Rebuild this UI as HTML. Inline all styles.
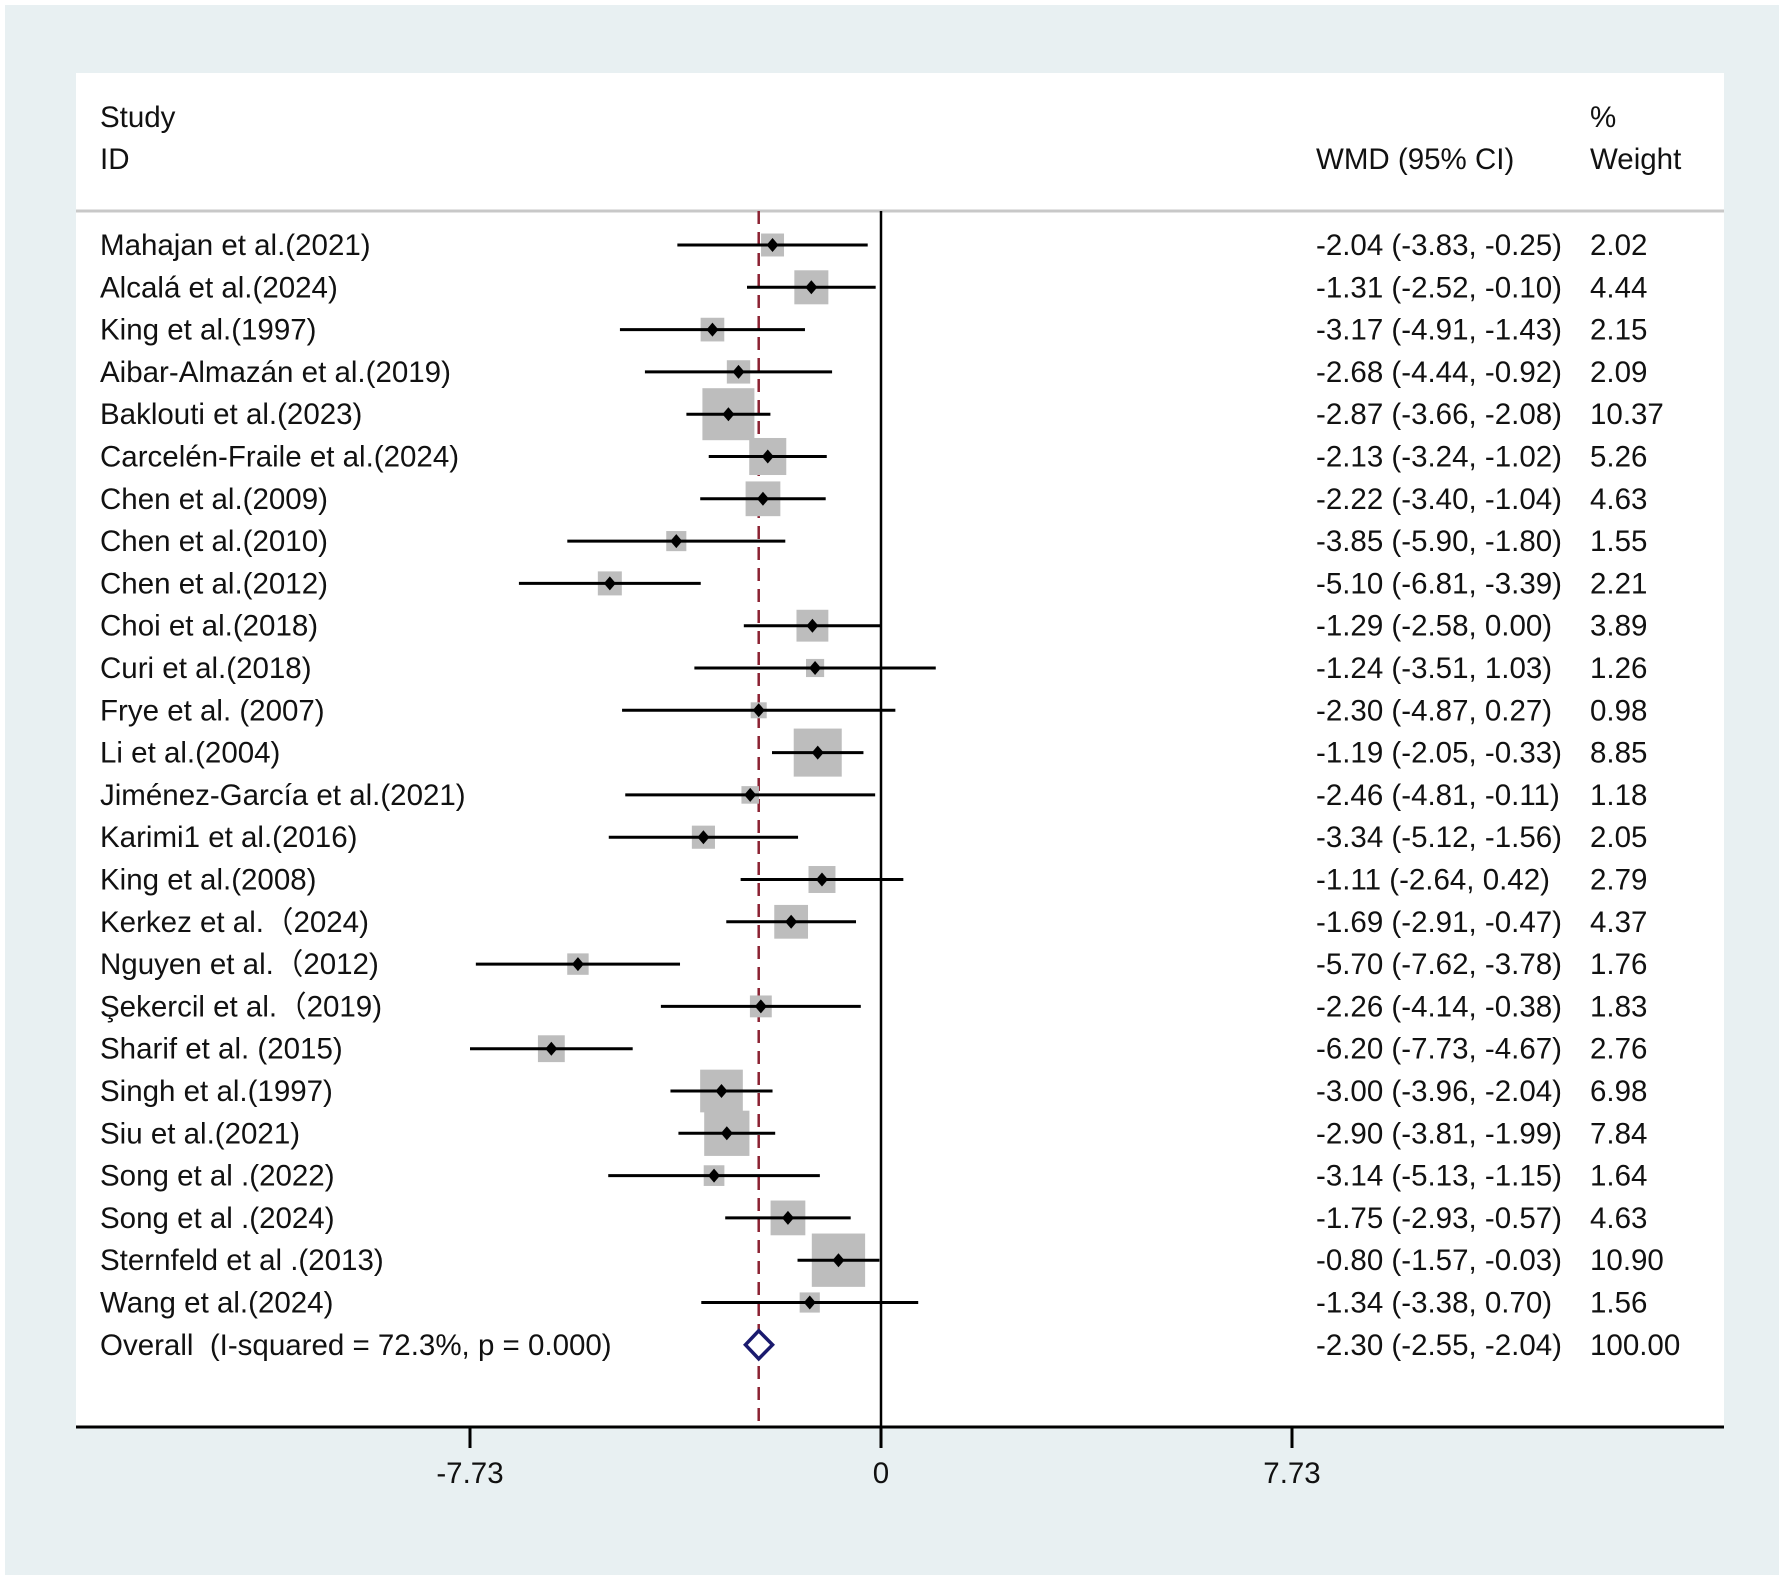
<!DOCTYPE html>
<html><head><meta charset="utf-8"><style>
html,body{margin:0;padding:0;background:#fff;}
svg{display:block;font-family:"Liberation Sans",Arial,sans-serif;}
</style></head><body>
<svg id="chart" width="1784" height="1580" viewBox="0 0 1784 1580">
<rect x="5" y="5" width="1774" height="1570" fill="#e8f0f2"/>
<rect x="76" y="73" width="1648" height="1354" fill="#ffffff"/>
<line x1="76" y1="211" x2="1724" y2="211" stroke="#c8c8c8" stroke-width="3"/>
<text x="100" y="127" font-size="29.5" fill="#111">Study</text>
<text x="100" y="169" font-size="29.5" fill="#111">ID</text>
<text x="1316" y="169" font-size="29.5" fill="#111">WMD (95% CI)</text>
<text x="1590" y="127" font-size="29.5" fill="#111">%</text>
<text x="1590" y="169" font-size="29.5" fill="#111">Weight</text>
<g id="marks"></g>
</svg>
<script>
const studies=["Mahajan et al.(2021)","Alcalá et al.(2024)","King et al.(1997)","Aibar-Almazán et al.(2019)","Baklouti et al.(2023)","Carcelén-Fraile et al.(2024)","Chen et al.(2009)","Chen et al.(2010)","Chen et al.(2012)","Choi et al.(2018)","Curi et al.(2018)","Frye et al. (2007)","Li et al.(2004)","Jiménez-García et al.(2021)","Karimi1 et al.(2016)","King et al.(2008)","Kerkez et al.（2024)","Nguyen et al.（2012)","Şekercil et al.（2019)","Sharif et al. (2015)","Singh et al.(1997)","Siu et al.(2021)","Song et al .(2022)","Song et al .(2024)","Sternfeld et al .(2013)","Wang et al.(2024)"];
const est=[-2.04,-1.31,-3.17,-2.68,-2.87,-2.13,-2.22,-3.85,-5.10,-1.29,-1.24,-2.30,-1.19,-2.46,-3.34,-1.11,-1.69,-5.70,-2.26,-6.20,-3.00,-2.90,-3.14,-1.75,-0.80,-1.34];
const lower=[-3.83,-2.52,-4.91,-4.44,-3.66,-3.24,-3.40,-5.90,-6.81,-2.58,-3.51,-4.87,-2.05,-4.81,-5.12,-2.64,-2.91,-7.62,-4.14,-7.73,-3.96,-3.81,-5.13,-2.93,-1.57,-3.38];
const upper=[-0.25,-0.10,-1.43,-0.92,-2.08,-1.02,-1.04,-1.80,-3.39,0.00,1.03,0.27,-0.33,-0.11,-1.56,0.42,-0.47,-3.78,-0.38,-4.67,-2.04,-1.99,-1.15,-0.57,-0.03,0.70];
const weights=[2.02,4.44,2.15,2.09,10.37,5.26,4.63,1.55,2.21,3.89,1.26,0.98,8.85,1.18,2.05,2.79,4.37,1.76,1.83,2.76,6.98,7.84,1.64,4.63,10.90,1.56];
const overallEst=-2.30, overallLow=-2.55, overallHigh=-2.04, overallLabel="Overall  (I-squared = 72.3%, p = 0.000)";
const ticks=[-7.73,0,7.73];

const NS="http://www.w3.org/2000/svg";
const g=document.getElementById('marks');
const FS=29.5;
const AXY=1427;
const xS=v=>881+v*53.17;
const yS=i=>245+i*42.3;
function el(t,a){const e=document.createElementNS(NS,t);for(const k in a)e.setAttribute(k,a[k]);g.appendChild(e);return e;}
const fmt=v=>v.toFixed(2);
let z=el('line',{x1:xS(0),y1:211,x2:xS(0),y2:AXY,stroke:'#000','stroke-width':2.5});


let d=el('line',{x1:xS(overallEst),y1:211,x2:xS(overallEst),y2:AXY,stroke:'#8b2232','stroke-width':2.5,'stroke-dasharray':'13,8'});


studies.forEach((s,i)=>{
  const y=yS(i), side=16.15*Math.sqrt(weights[i]);
  let b=el('rect',{x:xS(est[i])-side/2,y:y-side/2,width:side,height:side,fill:'#bdbdbd'});
  
  
  let l=el('line',{x1:xS(lower[i]),y1:y,x2:xS(upper[i]),y2:y,stroke:'#000','stroke-width':3});
  
  
  const cx=xS(est[i]);
  let p=el('polygon',{points:`${cx},${y-7} ${cx+6},${y} ${cx},${y+7} ${cx-6},${y}`,fill:'#000'});
  
  
  let t=el('text',{x:100,y:y+10,'font-size':FS,fill:'#111'});t.textContent=s;
  
  
  let w=el('text',{x:1316,y:y+10,'font-size':FS,fill:'#111'});w.textContent=`${fmt(est[i])} (${fmt(lower[i])}, ${fmt(upper[i])})`;
  
  
  let wt=el('text',{x:1590,y:y+10,'font-size':FS,fill:'#111'});wt.textContent=fmt(weights[i]);
  
  
});
const oy=yS(studies.length);
let dm=el('polygon',{points:`${xS(overallLow)},${oy} ${xS(overallEst)},${oy-14} ${xS(overallHigh)},${oy} ${xS(overallEst)},${oy+14}`,fill:'#fff',stroke:'#1a1a6e','stroke-width':3.5});


let ot=el('text',{x:100,y:oy+10,'font-size':FS,fill:'#111'});ot.textContent=overallLabel;ot.style.whiteSpace='pre';


let ow=el('text',{x:1316,y:oy+10,'font-size':FS,fill:'#111'});ow.textContent=`${fmt(overallEst)} (${fmt(overallLow)}, ${fmt(overallHigh)})`;


let owt=el('text',{x:1590,y:oy+10,'font-size':FS,fill:'#111'});owt.textContent='100.00';


let ax=el('line',{x1:76,y1:AXY,x2:1724,y2:AXY,stroke:'#000','stroke-width':3});


ticks.forEach(v=>{
  let tk=el('line',{x1:xS(v),y1:AXY,x2:xS(v),y2:AXY+21,stroke:'#000','stroke-width':3});
  
  
  let tl=el('text',{x:xS(v),y:1483,'font-size':FS,fill:'#111','text-anchor':'middle'});tl.textContent=v===0?'0':fmt(v);
  
  
});
</script>
</body></html>
